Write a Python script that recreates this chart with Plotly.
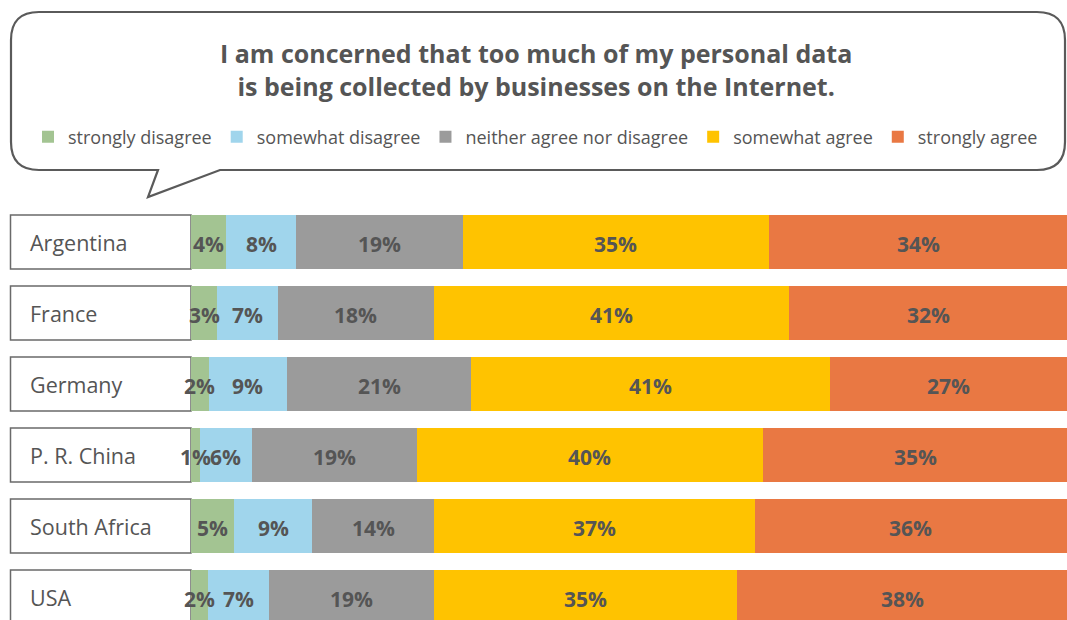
import plotly.graph_objects as go

countries = ["Argentina", "France", "Germany", "P. R. China", "South Africa", "USA"]
categories = ["strongly disagree", "somewhat disagree", "neither agree nor disagree",
              "somewhat agree", "strongly agree"]
strongly_disagree = [4, 3, 2, 1, 5, 2]
somewhat_disagree = [8, 7, 9, 6, 9, 7]
neither = [19, 18, 21, 19, 14, 19]
somewhat_agree = [35, 41, 41, 40, 37, 35]
strongly_agree = [34, 32, 27, 35, 36, 38]
series = [strongly_disagree, somewhat_disagree, neither, somewhat_agree, strongly_agree]
colors = ["#A3C492", "#A0D5EC", "#9B9B9B", "#FFC300", "#E97843"]
title = "I am concerned that too much of my personal data<br>is being collected by businesses on the Internet."

FONT = "Open Sans"
TXT = "#555555"
W, H = 1067, 620
L, T = 191, 200
PW, PH = W - L, H - T


def px(X):
    return (X - L) / PW


def py(Y):
    return 1 - (Y - T) / PH


# each row is drawn as shares of its own total (rounded labels sum to 100 or 101)
row_totals = [sum(s[i] for s in series) for i in range(len(countries))]

fig = go.Figure()
annotations = []
cum = [0.0] * len(countries)
for name, vals, col in zip(categories, series, colors):
    shares = [v / tot * 100 for v, tot in zip(vals, row_totals)]
    fig.add_trace(go.Bar(
        y=countries, x=shares, name=name, orientation="h",
        marker=dict(color=col, line=dict(width=0)),
        width=0.76, hoverinfo="skip",
    ))
    for i, (c, v, s) in enumerate(zip(countries, vals, shares)):
        annotations.append(dict(
            text=f"{v}%", xref="x", yref="y", x=cum[i] + s / 2, y=c,
            xanchor="center", yanchor="middle", yshift=-2, showarrow=False,
            font=dict(family=FONT, size=21, color=TXT, weight="bold"),
        ))
        cum[i] += s

shapes = []
# speech bubble
l, r, t, b, rad = 11, 1065, 12, 170, 28
pts = [
    ("M", l + rad, t), ("L", r - rad, t), ("Q", r, t, r, t + rad), ("L", r, b - rad),
    ("Q", r, b, r - rad, b), ("L", 220, b), ("L", 148, 197), ("L", 158, b),
    ("L", l + rad, b), ("Q", l, b, l, b - rad), ("L", l, t + rad), ("Q", l, t, l + rad, t),
]
path = ""
for p in pts:
    cmd = p[0]
    coords = p[1:]
    segs = []
    for i in range(0, len(coords), 2):
        segs.append(f"{px(coords[i]):.5f},{py(coords[i+1]):.5f}")
    path += cmd + " ".join(segs)
path += "Z"
shapes.append(dict(type="path", xref="paper", yref="paper", path=path,
                   line=dict(color="#5a5a5a", width=2.2), fillcolor="white", layer="below"))

annotations.append(dict(text=title, xref="paper", yref="paper", x=px(536), y=py(69),
                        xanchor="center", yanchor="middle", showarrow=False,
                        font=dict(family=FONT, size=25, color=TXT, weight="bold")))

for i, c in enumerate(countries):
    shapes.append(dict(type="rect", xref="paper", yref="y", x0=px(10.5), x1=px(191),
                       y0=i - 0.38, y1=i + 0.38, line=dict(color="#6a6a6a", width=1.5),
                       fillcolor="white", layer="below"))
    annotations.append(dict(text=c, xref="paper", yref="y", x=px(28), y=c,
                            xanchor="left", yanchor="middle", showarrow=False,
                            font=dict(family=FONT, size=21.5, color=TXT)))

fig.update_layout(
    width=W, height=H,
    margin=dict(l=L, r=0, t=T, b=0, pad=0),
    barmode="stack",
    paper_bgcolor="white", plot_bgcolor="rgba(0,0,0,0)",
    font=dict(family=FONT, color=TXT),
    xaxis=dict(range=[0, 100], visible=False, fixedrange=True),
    yaxis=dict(type="category", categoryorder="array", categoryarray=countries,
               range=[(620 - 242) / 71, -(242 - 200) / 71], visible=False, fixedrange=True),
    showlegend=True,
    legend=dict(orientation="h", x=px(28), xanchor="left", y=py(137), yanchor="middle",
                font=dict(family=FONT, size=18, color=TXT), itemwidth=30,
                traceorder="normal", bgcolor="rgba(0,0,0,0)", itemclick=False,
                itemdoubleclick=False),
    shapes=shapes, annotations=annotations,
)

fig.write_html(
    "out.html",
    config={"displayModeBar": False},
    post_script="document.body.style.margin='0px';document.documentElement.style.overflow='hidden';",
)
